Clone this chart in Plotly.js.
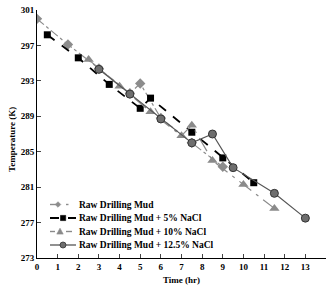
<!DOCTYPE html>
<html><head><meta charset="utf-8">
<script src="https://cdn.plot.ly/plotly-3.0.1.min.js"></script>
<style>html,body{margin:0;padding:0;background:#fff}#c{width:330px;height:287px}</style>
</head><body><div id="c"></div>
<script>
const rawX = [0, 1.5, 3, 4.5, 5, 6, 7.5, 9];
const rawY = [300, 297.1, 294.4, 291.6, 292.7, 288.8, 286.0, 283.3];
const n5X = [0.5, 2, 3.5, 5, 5.5, 7.5, 9, 10.5];
const n5Y = [298.2, 295.6, 292.6, 289.9, 291.05, 287.2, 284.3, 281.5];
const n10X = [2.5, 4, 5.5, 7, 7.5, 8.5, 10, 11.5];
const n10Y = [295.4, 292.4, 289.5, 286.8, 288.0, 284.0, 281.3, 278.6];
const n125X = [3, 4.5, 6, 7.5, 8.5, 9.5, 11.5, 13];
const n125Y = [294.3, 291.5, 288.7, 286.0, 287.0, 283.2, 280.3, 277.5];
const names = ["Raw Drilling Mud", "Raw Drilling Mud + 5% NaCl", "Raw Drilling Mud + 10% NaCl", "Raw Drilling Mud + 12.5% NaCl"];
const xTicks = [0,1,2,3,4,5,6,7,8,9,10,11,12,13,14];
const yTicks = [273,277,281,285,289,293,297,301];

const serif = "Liberation Serif, Times New Roman, serif";
const C_RAW = "#8c8c8c", C_5 = "#000", C_10 = "#8a8a8a", C_125 = "#6e6e6e";
const traces = [
  {x: rawX, y: rawY, name: names[0], mode: "lines+markers",
   line: {color: C_RAW, width: 1.2, dash: "dashdot"},
   marker: {symbol: "diamond", size: 8, color: C_RAW}},
  {x: n5X, y: n5Y, name: names[1], mode: "lines+markers",
   line: {color: C_5, width: 1.8, dash: "dash"},
   marker: {symbol: "square", size: 7, color: C_5}},
  {x: n10X, y: n10Y, name: names[2], mode: "lines+markers",
   line: {color: C_10, width: 1.2, dash: "longdashdot"},
   marker: {symbol: "triangle-up", size: 9, color: C_10}},
  {x: n125X, y: n125Y, name: names[3], mode: "lines+markers",
   line: {color: "#555", width: 1.2},
   marker: {symbol: "circle", size: 8, color: C_125, line: {color: "#333", width: 1}}}
];

// compact legend drawn in paper space (plot area: x 37..326, y 10..258 px)
const L = 37, T = 10, W = 289, H = 248;
const px = v => (v - L) / W, py = v => (T + H - v) / H;
const rows = [204.5, 218, 231.5, 245];
const shapes = [], annotations = [];
function seg(x0, x1, y, color, width, dash) {
  shapes.push({type: "line", xref: "paper", yref: "paper", x0: px(x0), x1: px(x1), y0: py(y), y1: py(y),
    line: {color, width, dash: dash || "solid"}});
}
function poly(pts, color, lc) {
  const d = "M" + pts.map(p => px(p[0]) + "," + py(p[1])).join("L") + "Z";
  shapes.push({type: "path", xref: "paper", yref: "paper", path: d, fillcolor: color, line: {color: lc || color, width: 0.6}});
}
// row 1: raw
seg(50, 60, rows[0], C_RAW, 1.4);
poly([[58, rows[0]-2.8], [60.8, rows[0]], [58, rows[0]+2.8], [55.2, rows[0]]], C_RAW);
seg(66, 68.5, rows[0], C_RAW, 1.4);
// row 2: 5%
seg(50, 76, rows[1], C_5, 1.8, "dash");
poly([[60.5, rows[1]-2.6], [65.7, rows[1]-2.6], [65.7, rows[1]+2.6], [60.5, rows[1]+2.6]], C_5);
// row 3: 10%
seg(50, 55, rows[2], C_10, 1.4);
poly([[60, rows[2]-3.3], [63.2, rows[2]+2.6], [56.8, rows[2]+2.6]], C_10);
seg(66, 72, rows[2], C_10, 1.4);
// row 4: 12.5%
seg(50, 76, rows[3], "#555", 1.3);
shapes.push({type: "circle", xref: "paper", yref: "paper", x0: px(60), x1: px(66), y0: py(rows[3]+3), y1: py(rows[3]-3),
  fillcolor: C_125, line: {color: "#333", width: 0.8}});
names.forEach((n, i) => annotations.push({xref: "paper", yref: "paper", x: px(77), y: py(rows[i]), text: n,
  showarrow: false, xanchor: "left", yanchor: "middle",
  font: {family: serif, size: 9.5, color: "#000", weight: "bold"}}));
annotations.push({xref: "paper", yref: "paper", x: px(12), y: py(140), text: "Temperature (K)", textangle: -90,
  showarrow: false, xanchor: "center", yanchor: "middle",
  font: {family: serif, size: 9, color: "#000", weight: "bold"}});

const layout = {
  width: 330, height: 287,
  margin: {l: L, r: 4, t: T, b: 29},
  paper_bgcolor: "#fff", plot_bgcolor: "#fff",
  font: {family: serif, size: 9, color: "#000", weight: "bold"},
  showlegend: false, shapes, annotations,
  xaxis: {range: [0, 14], tickvals: xTicks, ticks: "inside", ticklen: 4, tickwidth: 1,
    showline: true, linecolor: "#000", linewidth: 1, showgrid: false, zeroline: false,
    tickfont: {family: serif, size: 9, color: "#000", weight: "bold"},
    title: {text: "Time (hr)", standoff: 5, font: {family: serif, size: 9, color: "#000", weight: "bold"}}},
  yaxis: {range: [273, 301], tickvals: yTicks, ticks: "inside", ticklen: 4, tickwidth: 1,
    showline: true, linecolor: "#000", linewidth: 1, showgrid: false, zeroline: false,
    tickfont: {family: serif, size: 9, color: "#000", weight: "bold"}}
};
Plotly.newPlot("c", traces, layout, {displayModeBar: false, staticPlot: true});
</script></body></html>
